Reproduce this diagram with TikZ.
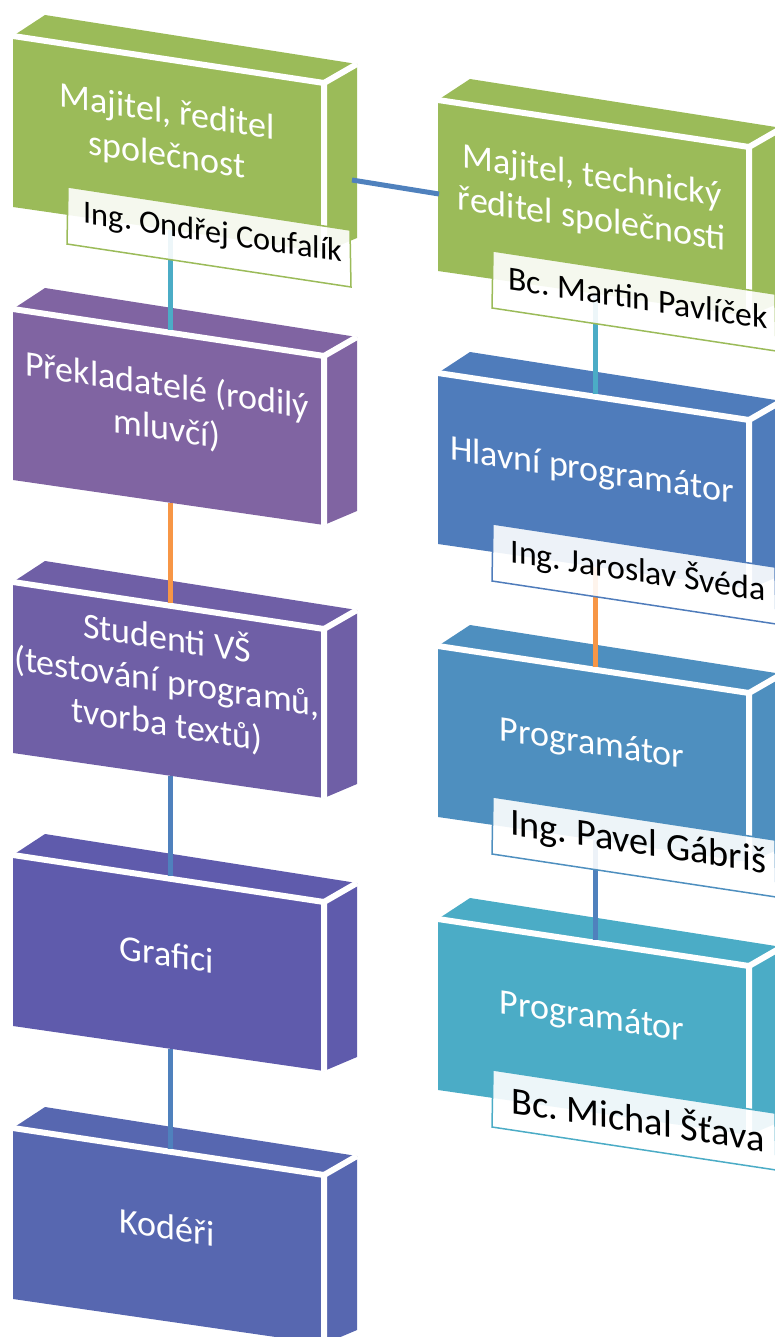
\documentclass[tikz,border=0pt]{standalone}
\usepackage{fontspec}
\setmainfont{Carlito}
\frenchspacing

\definecolor{cgreen}{HTML}{9BBB59}
\definecolor{cpurpleA}{HTML}{8064A2}
\definecolor{cpurpleB}{HTML}{6F5FA6}
\definecolor{cpurpleC}{HTML}{5F5BAC}
\definecolor{cblueA}{HTML}{5767B0}
\definecolor{cblueB}{HTML}{4F7CBB}
\definecolor{cblueC}{HTML}{4E8FBF}
\definecolor{cteal}{HTML}{4BACC6}
\definecolor{corange}{HTML}{F79646}
\definecolor{cline}{HTML}{4F81BD}

\tikzset{
  whiteedge/.style={white, line width=6pt},
  connector/.style={line width=5pt},
  maintext/.style={text=white, align=center, yslant=-0.152, inner sep=0pt,
    font=\fontsize{36}{43}\selectfont},
  nametext/.style={text=black, align=center, yslant=-0.152, inner sep=0pt},
  namebox/.style={fill=white, fill opacity=0.9, line width=1.5pt},
}

% slab in perspective: top face, right face, front face; #2,#3 = front top-left corner
\newcommand\orgbox[5]{%
  \begin{scope}[shift={(#2,#3)}]
    \coordinate (#1-o) at (0,0);
    \fill[#4] (0,0) -- (32,-21) -- (344,28) -- (311,47) -- cycle;
    \fill[#4] (311,47) -- (344,28) -- (344,202) -- (311,216) -- cycle;
    \fill[#4] (0,0) -- (311,47) -- (311,216) -- (0,171) -- cycle;
    \draw[whiteedge] (0,0) -- (311,47) -- (311,216);
    \draw[whiteedge] (311,47) -- (344,28);
    \coordinate (#1-top) at (157,20.7);
    \coordinate (#1-bot) at (157,193.7);
    \coordinate (#1-east) at (339,144);
    \coordinate (#1-west) at (1,94);
    \node[maintext] (#1-text) at (154,99) {#5};
  \end{scope}}

% name plate across the lower part of a slab; #3 = font size
\newcommand\orgname[4]{%
  \begin{scope}[shift={(#1-o)}]
    \draw[namebox, draw=#2] (55,151) -- (337,194) -- (338,251) -- (54,208) -- cycle;
    \node[nametext, font=\fontsize{#3}{#3}\selectfont] (#1-name) at (200,198) {#4};
  \end{scope}}

\begin{document}
\begin{tikzpicture}[x=1pt,y=-1pt]
  \useasboundingbox (0,0) rectangle (775,1337);
  \clip (0,0) rectangle (775,1337);

  % left column
  \orgbox{L1}{13}{36}{cgreen}{Majitel, ředitel\\společnost}
  \orgbox{L2}{13}{309}{cpurpleA}{Překladatelé (rodilý\\mluvčí)}
  \orgbox{L3}{13}{582}{cpurpleB}{Studenti VŠ\\(testování programů,\\tvorba textů)}
  \orgbox{L4}{13}{855}{cpurpleC}{Grafici}
  \orgbox{L5}{13}{1128}{cblueA}{Kodéři}

  % right column
  \orgbox{R1}{438}{100}{cgreen}{Majitel, technický\\ředitel společnosti}
  \orgbox{R2}{438}{373}{cblueB}{Hlavní programátor}
  \orgbox{R3}{438}{646}{cblueC}{Programátor}
  \orgbox{R4}{438}{919}{cteal}{Programátor}

  % connectors
  \draw[connector, cline]   (L1-east) -- (R1-west);
  \draw[connector, cteal]   (L1-bot) -- (L2-top);
  \draw[connector, corange] (L2-bot) -- (L3-top);
  \draw[connector, cline]   (L3-bot) -- (L4-top);
  \draw[connector, cline]   (L4-bot) -- (L5-top);
  \draw[connector, cteal]   (R1-bot) -- (R2-top);
  \draw[connector, corange] (R2-bot) -- (R3-top);
  \draw[connector, cline]   (R3-bot) -- (R4-top);

  % name plates
  \orgname{L1}{cgreen}{32.3}{Ing. Ondřej Coufalík}
  \orgname{R1}{cgreen}{33.7}{Bc. Martin Pavlíček}
  \orgname{R2}{cblueB}{33.8}{Ing. Jaroslav Švéda}
  \orgname{R3}{cblueC}{38.3}{Ing. Pavel Gábriš}
  \orgname{R4}{cteal}{38.4}{Bc. Michal Šťava}
\end{tikzpicture}
\end{document}
